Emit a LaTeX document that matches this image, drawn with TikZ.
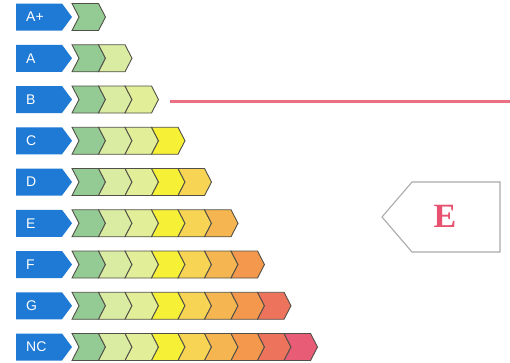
\documentclass[tikz,border=0pt]{standalone}
\usepackage{fontspec}
\setmainfont{Liberation Sans}
\newfontfamily\serifE{Liberation Serif}
\definecolor{lblue}{RGB}{30,122,212}
\definecolor{c0}{RGB}{148,202,148}
\definecolor{c1}{RGB}{218,236,162}
\definecolor{c2}{RGB}{226,238,152}
\definecolor{c3}{RGB}{246,240,55}
\definecolor{c4}{RGB}{248,212,85}
\definecolor{c5}{RGB}{245,182,82}
\definecolor{c6}{RGB}{243,152,76}
\definecolor{c7}{RGB}{238,115,92}
\definecolor{c8}{RGB}{232,92,118}
\definecolor{edge}{RGB}{80,80,72}
\definecolor{pinkline}{RGB}{236,112,132}
\definecolor{Ered}{RGB}{232,82,112}
\definecolor{pgray}{RGB}{170,170,170}
\tikzset{
  lblbox/.style={fill=lblue},
  lbltext/.style={text=white,anchor=west,inner sep=0pt,font=\fontsize{14}{14}\selectfont},
  chev/.style={draw=edge,line width=0.9pt,line join=miter},
  marker/.style={pinkline,line width=3pt},
  pointer/.style={draw=pgray,line width=1.1pt,fill=white},
  pointertext/.style={text=Ered,font=\serifE\bfseries\fontsize{34}{34}\selectfont,inner sep=0pt}
}
\begin{document}
\begin{tikzpicture}[x=1pt,y=-1pt]
\useasboundingbox (0,0) rectangle (510,362);
\foreach \lab [count=\i from 0] in {A+,A,B,C,D,E,F,G,NC} {
  \pgfmathsetmacro\yc{17+41.25*\i}
  \pgfmathsetmacro\yt{\yc-13.5}
  \pgfmathsetmacro\yb{\yc+13.5}
  \fill[lblbox] (16,\yt) -- (62,\yt) -- (72,\yc) -- (62,\yb) -- (16,\yb) -- cycle;
  \node[lbltext] (L\i) at (26,\yc) {\lab};
  \foreach \k in {0,...,\i} {
    \pgfmathsetmacro\xa{72+26.5*\k}
    \pgfmathsetmacro\xb{\xa+26.5}
    \filldraw[chev,fill=c\k] (\xa,\yt) -- (\xb,\yt) -- (\xb+7,\yc) -- (\xb,\yb) -- (\xa,\yb) -- (\xa+7,\yc) -- cycle;
  }
}
\coordinate (m1) at (170,101);
\coordinate (m2) at (510,101);
\draw[marker] (m1) -- (m2);
\draw[pointer] (382,217) -- (412,182) -- (500,182) -- (500,252) -- (412,252) -- cycle;
\node[pointertext] (E) at (445,216) {E};
\end{tikzpicture}
\end{document}
